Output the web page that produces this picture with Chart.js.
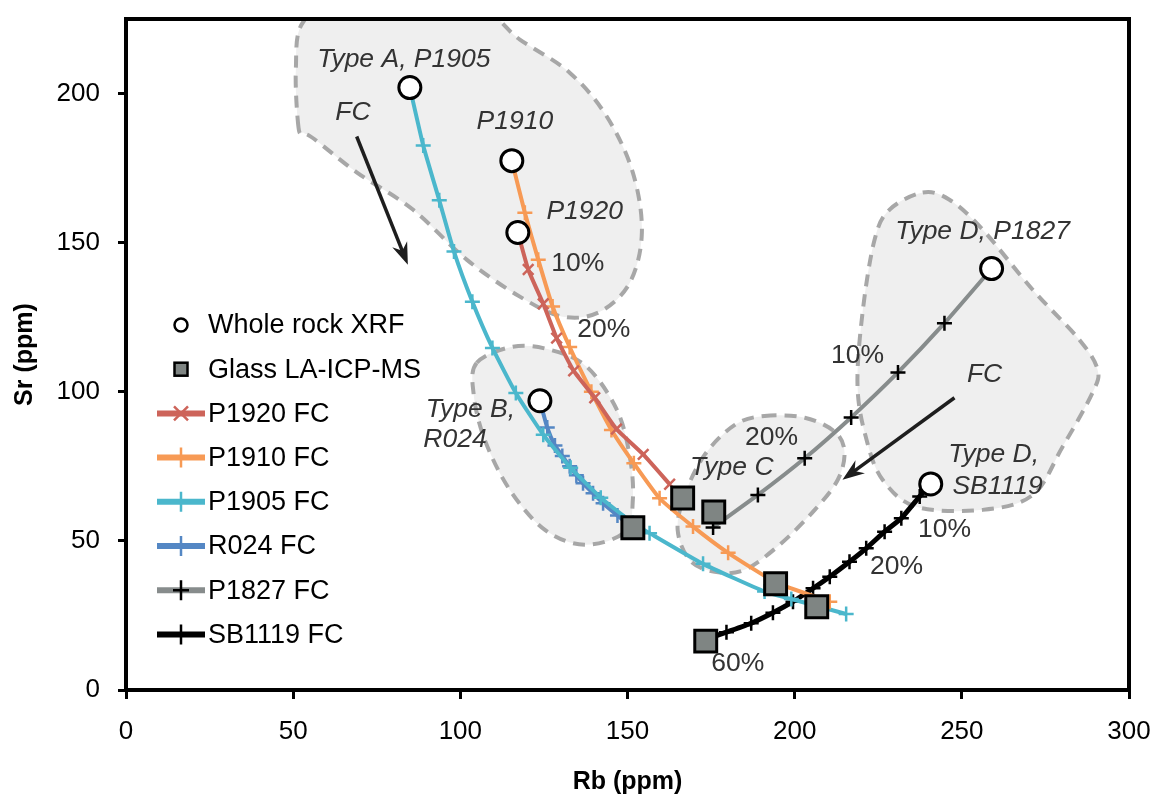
<!DOCTYPE html>
<html lang="en">
<head>
<meta charset="utf-8"/>
<title>Rb vs Sr - FC models</title>
<script src="https://cdn.jsdelivr.net/npm/chart.js"></script>
<style>
  body { margin: 0; background: #fff; }
</style>
</head>
<body>
<canvas id="myChart" width="1155" height="794"></canvas>
<script>
// measured samples
const wholeRockRb = [84.9, 115.4, 117.2, 123.8, 258.9, 240.7];
const wholeRockSr = [202, 177.5, 153.4, 97, 141.3, 69.1];
const glassRb = [151.6, 166.5, 175.8, 194.3, 206.6, 173.4];
const glassSr = [54.4, 64.4, 59.7, 35.6, 27.9, 16.4];

// fractional crystallisation models
const p1920Rb = [117.2, 120.3, 124.8, 128.8, 133.9, 140.2, 146.7, 154.7, 162.6];
const p1920Sr = [153.4, 141, 129.5, 118, 107, 98, 87.5, 79, 69];
const p1910Rb = [115.4, 119.3, 123.3, 127.6, 132.7, 139.2, 145.2, 151.9, 159.6, 169.6, 180.1, 194.5, 210.5];
const p1910Sr = [177.5, 160, 144.3, 128.6, 115, 100, 87.2, 76, 64.3, 54.8, 46, 36, 29.6];
const p1905Rb = [84.9, 88.9, 93.7, 98.1, 103.6, 109.6, 116.6, 124.8, 133, 142, 151.6, 156.6, 172.6, 191, 199, 215.4];
const p1905Sr = [202, 182.6, 164.2, 147, 130.2, 114.7, 99.6, 85.6, 74.5, 64.5, 56, 52.6, 42.3, 33, 30.5, 25.5];
const r024Rb = [123.8, 126, 128.3, 130.5, 132.7, 134.7, 136.7, 139.7, 142.7, 147, 151.6];
const r024Sr = [97, 88, 82, 78.5, 75, 72, 69.3, 66, 62.6, 58.5, 54.4];
const p1827Rb = [258.9, 244.8, 230.9, 216.9, 203, 189, 175.6];
const p1827Sr = [141.3, 123, 106.5, 91.4, 77.7, 65.4, 54.5];
const sb1119Rb = [240.7, 237.4, 231.9, 226.9, 221.4, 216.4, 210.5, 205.5, 199.5, 193.5, 187, 179.6, 173.6];
const sb1119Sr = [69.1, 64.9, 57.6, 53.1, 47.5, 43, 38, 34.1, 29.6, 25.9, 22.4, 19.4, 17];

const xTicks = [0, 50, 100, 150, 200, 250, 300];
const yTicks = [0, 50, 100, 150, 200];

// grey sample groups (outline in Rb/Sr units)
const blobA = [[51.6,188.6],[50.8,208.1],[53,224],[66,231.5],[102.8,229.9],[117.8,218.1],[132.7,207],[143.8,192.3],[151.6,173.5],[154.3,153.4],[150.7,136.6],[141.7,126.8],[130.6,125.2],[117.8,131.9],[101.9,144.3],[85.8,161.1],[69.1,173.5],[56.5,184.6],[53.2,186.8]];
const blobB = [[104.9,109.7],[115.7,115.1],[126.8,114.1],[137.8,108.4],[146.8,94],[150.7,78.2],[151.6,63.8],[149.2,53],[137.2,48.7],[125.3,53.7],[114.8,67.1],[107.3,83.9],[104,99]];
const blobC = [[191,91.9],[203,91.3],[212,86.6],[214.9,79.9],[212.9,70.5],[206,60.4],[195.5,48.7],[185,40.3],[176.1,39.6],[168.6,43.6],[165,53.7],[167.1,65.4],[173.1,78.9],[182.1,88.9]];
const blobD = [[238.3,166.8],[246.3,164.4],[256.2,154.4],[271.2,134.2],[285.2,117.4],[290.6,107.4],[289.1,99.7],[280.1,81.5],[271.2,65.4],[256.2,60.4],[236.5,61.4],[226.3,70.5],[221.5,83.9],[218.8,101.7],[220.3,126.5],[223.9,151],[228.4,161.1]];

// annotations [text, Rb, Sr, italic]
const labels = [
  ['Type A, P1905', 83.1, 211.4, true],
  ['FC', 67.9, 193.6, true],
  ['P1910', 116.3, 190.6, true],
  ['P1920', 137.2, 160.4, true],
  ['10%', 135.1, 143, false],
  ['20%', 142.9, 120.8, false],
  ['Type B,', 103, 94, true],
  ['R024', 98.4, 83.9, true],
  ['20%', 193.1, 84.6, false],
  ['Type C', 181.2, 74.5, true],
  ['Type D, P1827', 256.2, 153.7, true],
  ['10%', 218.8, 112.1, false],
  ['FC', 256.8, 105.7, true],
  ['Type D,', 259.5, 78.9, true],
  ['SB1119', 260.7, 68.1, true],
  ['10%', 244.8, 53.7, false],
  ['20%', 230.5, 41.3, false],
  ['60%', 183, 8.7, false]
];
const arrows = [[69, 185.6, 84.3, 142.6], [247.8, 98, 214.3, 70.5]];

const FONT = '"Liberation Sans", Arial, sans-serif';

function pts(xs, ys) {
  return xs.map((x, i) => ({ x: x, y: ys[i] }));
}

function fcLine(label, xs, ys, color, markColor, style, width) {
  return {
    label: label,
    data: pts(xs, ys),
    showLine: true,
    borderColor: color,
    borderWidth: width,
    tension: 0.15,
    pointStyle: style,
    pointRadius: 7.5,
    pointBorderWidth: 2.5,
    pointBorderColor: markColor,
    pointBackgroundColor: markColor,
    order: 2
  };
}

const datasets = [
  { label: 'Whole rock XRF', data: pts(wholeRockRb, wholeRockSr), pointStyle: 'circle', pointRadius: 11,
    backgroundColor: '#fff', borderColor: '#000', borderWidth: 3, showLine: false, order: 0 },
  { label: 'Glass LA-ICP-MS', data: pts(glassRb, glassSr), pointStyle: 'rect', pointRadius: 15.5,
    backgroundColor: '#7f8583', borderColor: '#000', borderWidth: 3, showLine: false, order: 1 },
  fcLine('P1920 FC', p1920Rb, p1920Sr, '#cd645a', '#cd645a', 'crossRot', 4),
  fcLine('P1910 FC', p1910Rb, p1910Sr, '#f79a55', '#f79a55', 'cross', 4),
  fcLine('P1905 FC', p1905Rb, p1905Sr, '#4bb7cc', '#4bb7cc', 'cross', 4),
  fcLine('R024 FC', r024Rb, r024Sr, '#5487c4', '#5487c4', 'cross', 4),
  fcLine('P1827 FC', p1827Rb, p1827Sr, '#878c8c', '#000', 'cross', 4),
  fcLine('SB1119 FC', sb1119Rb, sb1119Sr, '#000', '#000', 'cross', 5)
];

function blobPath(ctx, p) {
  const n = p.length;
  ctx.beginPath();
  ctx.moveTo(p[0][0], p[0][1]);
  for (let i = 0; i < n; i++) {
    const p0 = p[(i - 1 + n) % n], p1 = p[i], p2 = p[(i + 1) % n], p3 = p[(i + 2) % n];
    ctx.bezierCurveTo(p1[0] + (p2[0] - p0[0]) / 6, p1[1] + (p2[1] - p0[1]) / 6,
                      p2[0] - (p3[0] - p1[0]) / 6, p2[1] - (p3[1] - p1[1]) / 6, p2[0], p2[1]);
  }
  ctx.closePath();
}

const groupsPlugin = {
  id: 'groups',
  beforeDatasetsDraw(chart) {
    const ctx = chart.ctx, a = chart.chartArea;
    const sx = chart.scales.x, sy = chart.scales.y;
    ctx.save();
    ctx.beginPath();
    ctx.rect(a.left, a.top, a.right - a.left, a.bottom - a.top);
    ctx.clip();
    [blobA, blobB, blobC, blobD].forEach(b => {
      const p = b.map(q => [sx.getPixelForValue(q[0]), sy.getPixelForValue(q[1])]);
      blobPath(ctx, p);
      ctx.fillStyle = '#efefef';
      ctx.fill();
      ctx.setLineDash([12, 8]);
      ctx.lineWidth = 4;
      ctx.strokeStyle = '#a7a7a7';
      ctx.stroke();
    });
    ctx.restore();
  },
  afterDatasetsDraw(chart) {
    const ctx = chart.ctx;
    const sx = chart.scales.x, sy = chart.scales.y;
    ctx.save();
    // arrows
    ctx.strokeStyle = '#1e1e1e';
    ctx.fillStyle = '#1e1e1e';
    ctx.lineWidth = 3.5;
    arrows.forEach(r => {
      const x1 = sx.getPixelForValue(r[0]), y1 = sy.getPixelForValue(r[1]);
      const x2 = sx.getPixelForValue(r[2]), y2 = sy.getPixelForValue(r[3]);
      const ang = Math.atan2(y2 - y1, x2 - x1);
      ctx.beginPath();
      ctx.moveTo(x1, y1);
      ctx.lineTo(x2 - 12 * Math.cos(ang), y2 - 12 * Math.sin(ang));
      ctx.stroke();
      ctx.beginPath();
      ctx.moveTo(x2, y2);
      ctx.lineTo(x2 - 22 * Math.cos(ang) + 8 * Math.sin(ang), y2 - 22 * Math.sin(ang) - 8 * Math.cos(ang));
      ctx.lineTo(x2 - 15 * Math.cos(ang), y2 - 15 * Math.sin(ang));
      ctx.lineTo(x2 - 22 * Math.cos(ang) - 8 * Math.sin(ang), y2 - 22 * Math.sin(ang) + 8 * Math.cos(ang));
      ctx.closePath();
      ctx.fill();
    });
    // text labels
    ctx.fillStyle = '#333';
    ctx.textAlign = 'center';
    ctx.textBaseline = 'middle';
    labels.forEach(l => {
      ctx.font = (l[3] ? 'italic ' : '') + '26.5px ' + FONT;
      ctx.fillText(l[0], sx.getPixelForValue(l[1]), sy.getPixelForValue(l[2]));
    });
    ctx.restore();
  },
  afterDraw(chart) {
    const ctx = chart.ctx, a = chart.chartArea;
    ctx.save();
    // frame
    ctx.strokeStyle = '#000';
    ctx.lineWidth = 4;
    ctx.strokeRect(a.left, a.top, a.right - a.left, a.bottom - a.top);
    // legend
    const lx = a.left + 31, ty = a.top + 306, step = 44.2;
    ctx.font = '27px ' + FONT;
    ctx.textBaseline = 'middle';
    ctx.textAlign = 'left';
    chart.data.datasets.forEach((ds, i) => {
      const y = ty + i * step;
      const cx = lx + 24;
      if (i === 0) {
        ctx.beginPath();
        ctx.arc(cx, y, 6.5, 0, Math.PI * 2);
        ctx.fillStyle = '#fff';
        ctx.fill();
        ctx.lineWidth = 2.5;
        ctx.strokeStyle = '#000';
        ctx.stroke();
      } else if (i === 1) {
        ctx.fillStyle = '#7f8583';
        ctx.fillRect(cx - 6.5, y - 6.5, 13, 13);
        ctx.lineWidth = 2.5;
        ctx.strokeStyle = '#000';
        ctx.strokeRect(cx - 6.5, y - 6.5, 13, 13);
      } else {
        ctx.beginPath();
        ctx.moveTo(lx, y);
        ctx.lineTo(lx + 48, y);
        ctx.lineWidth = 6;
        ctx.strokeStyle = ds.borderColor;
        ctx.stroke();
        ctx.beginPath();
        ctx.lineWidth = 2.5;
        ctx.strokeStyle = ds.pointBorderColor;
        if (ds.pointStyle === 'crossRot') {
          ctx.moveTo(cx - 7, y - 7); ctx.lineTo(cx + 7, y + 7);
          ctx.moveTo(cx - 7, y + 7); ctx.lineTo(cx + 7, y - 7);
        } else {
          ctx.moveTo(cx - 8, y); ctx.lineTo(cx + 8, y);
          ctx.moveTo(cx, y - 10); ctx.lineTo(cx, y + 10);
        }
        ctx.stroke();
      }
      ctx.fillStyle = '#000';
      ctx.fillText(ds.label, lx + 51, y + 1);
    });
    ctx.restore();
  }
};

new Chart(document.getElementById('myChart'), {
  type: 'scatter',
  data: { datasets: datasets },
  options: {
    responsive: false,
    animation: false,
    layout: { padding: { top: 19, right: 26, left: 0, bottom: 0 } },
    plugins: { legend: { display: false }, tooltip: { enabled: false } },
    scales: {
      x: {
        type: 'linear', min: 0, max: 300,
        afterBuildTicks: s => { s.ticks = xTicks.map(v => ({ value: v })); },
        afterFit: s => { s.height = 104; s.paddingLeft = 0; s.paddingRight = 0; },
        ticks: { color: '#000', font: { size: 26, family: FONT }, padding: 17, maxRotation: 0 },
        grid: { drawOnChartArea: false, tickLength: 9, tickWidth: 3, tickColor: '#000' },
        border: { display: false },
        title: { display: true, text: 'Rb (ppm)', color: '#000', font: { size: 25, weight: 'bold', family: FONT },
                 padding: { top: 0, bottom: -3 } }
      },
      y: {
        type: 'linear', min: 0, max: 225,
        afterBuildTicks: s => { s.ticks = yTicks.map(v => ({ value: v })); },
        afterFit: s => { s.width = 126; s.paddingTop = 0; s.paddingBottom = 0; },
        ticks: { color: '#000', font: { size: 26, family: FONT }, padding: 18 },
        grid: { drawOnChartArea: false, tickLength: 8, tickWidth: 3, tickColor: '#000' },
        border: { display: false },
        title: { display: true, text: 'Sr (ppm)', color: '#000', font: { size: 25, weight: 'bold', family: FONT },
                 padding: { top: 10, bottom: 0 } }
      }
    }
  },
  plugins: [groupsPlugin]
});
</script>
</body>
</html>
